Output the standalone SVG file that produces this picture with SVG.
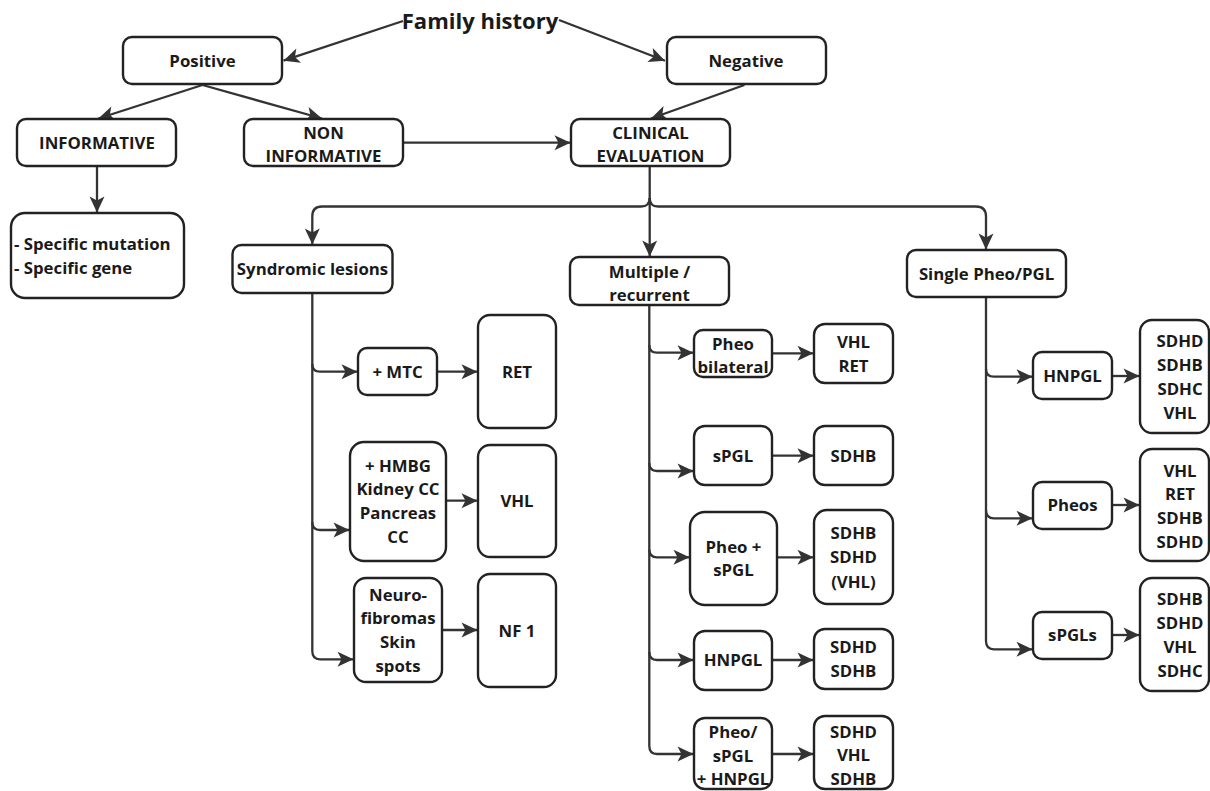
<svg xmlns="http://www.w3.org/2000/svg" width="1210" height="791" viewBox="0 0 1210 791">
<defs>
<marker id="ah" markerUnits="userSpaceOnUse" markerWidth="18" markerHeight="18" viewBox="0 0 18 18" refX="17" refY="9" orient="auto">
<path d="M1,1.5 L17,9 L1,16.5 L5,9 Z" fill="#333"/>
</marker>
<style>
.b{fill:#fff;stroke:#222;stroke-width:2.4}
.t{font-family:"Open Sans","Liberation Sans",sans-serif;font-weight:700;font-size:16.8px;fill:#1a1a1a;text-anchor:middle}
.c path{fill:none;stroke:#333;stroke-width:2.3;marker-end:url(#ah)}
</style>
</defs>
<rect width="1210" height="791" fill="#fff"/>

<g class="c" id="connectors">
<path d="M403,21 L283.5,60.7"/>
<path d="M559,20 L665,60.7"/>
<path d="M202.5,85 L98.4,118.5"/>
<path d="M202.5,85 L322,118.5"/>
<path d="M97,166 V212.5"/>
<path d="M403,142.7 H570.5"/>
<path d="M744.4,85 L651,118.5"/>
<path d="M649.7,166 V256.5"/>
<path d="M649.7,198 Q649.7,206.5 641,206.5 H322 Q312.3,206.5 312.3,216.5 V244.5"/>
<path d="M649.7,198 Q649.7,206.5 658,206.5 H976 Q986,206.5 986,216.5 V249.5"/>

<path d="M312.3,293 V651 Q312.3,659.3 320,659.3 H353.5"/>
<path d="M312.3,364 Q312.3,371.7 320,371.7 H357.5"/>
<path d="M312.3,522 Q312.3,530 320,530 H349.5"/>
<path d="M436.7,371.7 H477.5"/>
<path d="M445.7,500.7 H477.5"/>
<path d="M441.7,630 H477.5"/>

<path d="M649.3,305 V746 Q649.3,754 657,754 H693.5"/>
<path d="M649.3,345 Q649.3,352.7 657,352.7 H693.5"/>
<path d="M649.3,463 Q649.3,471 657,471 H693.5"/>
<path d="M649.3,549.5 Q649.3,557.3 657,557.3 H689.5"/>
<path d="M649.3,652 Q649.3,660 657,660 H693.5"/>
<path d="M772.3,353.3 H813.5"/>
<path d="M772.3,455.7 H813.5"/>
<path d="M776.7,557.3 H813.5"/>
<path d="M772.3,660 H813.5"/>
<path d="M772.3,754 H813.5"/>

<path d="M986,297 V641 Q986,649.3 994,649.3 H1032.5"/>
<path d="M986,369 Q986,376.7 994,376.7 H1032.5"/>
<path d="M986,510.5 Q986,518.3 994,518.3 H1032.5"/>
<path d="M1111.7,376 H1139.5"/>
<path d="M1111.7,505 H1139.5"/>
<path d="M1111.7,635 H1139.5"/>
</g>

<g id="family-history"><text class="t" x="480" y="28.5" style="font-size:22px">Family history</text></g>

<g id="positive"><rect class="b" x="123" y="37" width="159" height="47" rx="9"/><text class="t" x="202.5" y="66.5">Positive</text></g>
<g id="negative"><rect class="b" x="667" y="37" width="159" height="47" rx="9"/><text class="t" x="746" y="66.5">Negative</text></g>
<g id="informative"><rect class="b" x="17" y="119" width="159" height="47" rx="9"/><text class="t" x="97" y="148.5">INFORMATIVE</text></g>
<g id="non-informative"><rect class="b" x="244" y="119" width="159" height="47" rx="9"/><text class="t" x="323.5" y="138.5">NON</text><text class="t" x="323.5" y="161.5">INFORMATIVE</text></g>
<g id="clinical-evaluation"><rect class="b" x="571" y="119" width="159" height="47" rx="9"/><text class="t" x="650.5" y="138.5">CLINICAL</text><text class="t" x="650.5" y="161.5">EVALUATION</text></g>
<g id="specific"><rect class="b" x="11" y="213" width="173" height="85" rx="14"/><text class="t" x="14" y="249.5" style="text-anchor:start">- Specific mutation</text><text class="t" x="14" y="273.5" style="text-anchor:start">- Specific gene</text></g>

<g id="syndromic"><rect class="b" x="232.5" y="245" width="160" height="48" rx="9"/><text class="t" x="312.5" y="275">Syndromic lesions</text></g>
<g id="multiple"><rect class="b" x="570" y="257" width="159" height="48" rx="9"/><text class="t" x="649.5" y="277.5">Multiple /</text><text class="t" x="649.5" y="300.5">recurrent</text></g>
<g id="single"><rect class="b" x="907" y="250" width="159" height="47" rx="9"/><text class="t" x="986.5" y="279.5">Single Pheo/PGL</text></g>

<g id="mtc"><rect class="b" x="358" y="348" width="79" height="47" rx="9"/><text class="t" x="397.5" y="377.5">+ MTC</text></g>
<g id="ret"><rect class="b" x="478" y="315" width="78" height="113" rx="12"/><text class="t" x="517" y="377.5">RET</text></g>
<g id="hmbg"><rect class="b" x="350" y="442" width="96" height="119" rx="14"/><text class="t" x="398" y="471.5">+ HMBG</text><text class="t" x="398" y="495">Kidney CC</text><text class="t" x="398" y="519">Pancreas</text><text class="t" x="398" y="543">CC</text></g>
<g id="vhl"><rect class="b" x="478" y="445" width="78" height="112" rx="12"/><text class="t" x="517" y="506.5">VHL</text></g>
<g id="neuro"><rect class="b" x="354" y="578" width="88" height="104" rx="12"/><text class="t" x="398" y="600.5">Neuro-</text><text class="t" x="398" y="624">fibromas</text><text class="t" x="398" y="648">Skin</text><text class="t" x="398" y="671.5">spots</text></g>
<g id="nf1"><rect class="b" x="478" y="574" width="78" height="113" rx="12"/><text class="t" x="517" y="636.5">NF 1</text></g>

<g id="pheo-bilateral"><rect class="b" x="694" y="330" width="78" height="47" rx="9"/><text class="t" x="733" y="350">Pheo</text><text class="t" x="733" y="373">bilateral</text></g>
<g id="vhl-ret"><rect class="b" x="814" y="324" width="79" height="59" rx="11"/><text class="t" x="853.5" y="348">VHL</text><text class="t" x="853.5" y="371.5">RET</text></g>
<g id="spgl"><rect class="b" x="694" y="426" width="78" height="59" rx="11"/><text class="t" x="733" y="461.5">sPGL</text></g>
<g id="sdhb"><rect class="b" x="814" y="426" width="79" height="59" rx="11"/><text class="t" x="853.5" y="461.5">SDHB</text></g>
<g id="pheo-spgl"><rect class="b" x="690" y="512" width="87" height="93" rx="15"/><text class="t" x="733.5" y="552.5">Pheo +</text><text class="t" x="733.5" y="576">sPGL</text></g>
<g id="sdhb-sdhd-vhl"><rect class="b" x="814" y="510" width="79" height="94" rx="13"/><text class="t" x="853.5" y="539">SDHB</text><text class="t" x="853.5" y="563">SDHD</text><text class="t" x="853.5" y="587.5">(VHL)</text></g>
<g id="hnpgl-m"><rect class="b" x="694" y="631" width="78" height="59" rx="11"/><text class="t" x="733" y="666">HNPGL</text></g>
<g id="sdhd-sdhb"><rect class="b" x="814" y="629" width="79" height="60" rx="11"/><text class="t" x="853.5" y="653">SDHD</text><text class="t" x="853.5" y="677">SDHB</text></g>
<g id="pheo-spgl-hnpgl"><rect class="b" x="694" y="718" width="78" height="71" rx="11"/><text class="t" x="733" y="738">Pheo/</text><text class="t" x="733" y="762">sPGL</text><text class="t" x="733" y="785">+ HNPGL</text></g>
<g id="sdhd-vhl-sdhb"><rect class="b" x="814" y="716" width="79" height="73" rx="11"/><text class="t" x="853.5" y="737.5">SDHD</text><text class="t" x="853.5" y="761">VHL</text><text class="t" x="853.5" y="785">SDHB</text></g>

<g id="hnpgl-s"><rect class="b" x="1033" y="352" width="79" height="47" rx="9"/><text class="t" x="1072.5" y="382">HNPGL</text></g>
<g id="list1"><rect class="b" x="1140" y="320" width="69" height="113" rx="12"/><text class="t" x="1180" y="346.5">SDHD</text><text class="t" x="1180" y="370.5">SDHB</text><text class="t" x="1180" y="394.5">SDHC</text><text class="t" x="1180" y="419">VHL</text></g>
<g id="pheos"><rect class="b" x="1033" y="482" width="79" height="47" rx="9"/><text class="t" x="1072.5" y="511">Pheos</text></g>
<g id="list2"><rect class="b" x="1140" y="449" width="69" height="112" rx="12"/><text class="t" x="1180" y="476.5">VHL</text><text class="t" x="1180" y="500">RET</text><text class="t" x="1180" y="524">SDHB</text><text class="t" x="1180" y="548">SDHD</text></g>
<g id="spgls"><rect class="b" x="1033" y="612" width="79" height="47" rx="9"/><text class="t" x="1072.5" y="641">sPGLs</text></g>
<g id="list3"><rect class="b" x="1140" y="578" width="69" height="113" rx="12"/><text class="t" x="1180" y="605">SDHB</text><text class="t" x="1180" y="629">SDHD</text><text class="t" x="1180" y="653">VHL</text><text class="t" x="1180" y="677">SDHC</text></g>
</svg>
